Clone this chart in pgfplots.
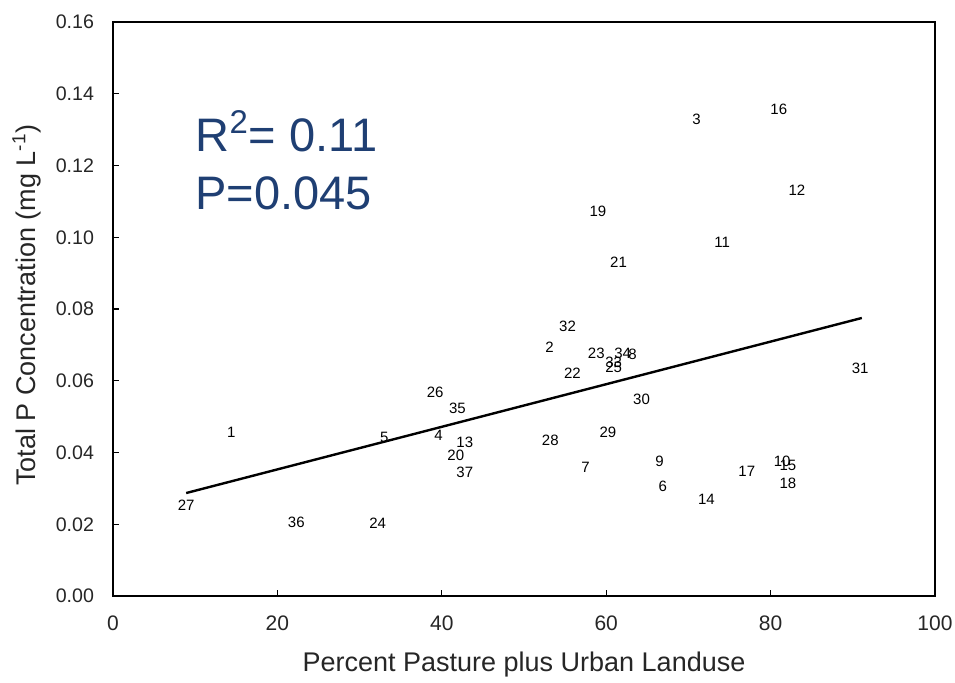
\documentclass[border=0pt]{standalone}
\usepackage{fontspec}
\setmainfont{Liberation Sans}
\usepackage{pgfplots}
\usepackage{pgfplotstable}
\pgfplotsset{compat=1.18}
\definecolor{rtxt}{HTML}{1F3F73}
\pgfplotstableread{
x y label
14.4 0.0457 1
53.1 0.0694 2
71.0 0.1330 3
39.6 0.0449 4
33.0 0.0443 5
66.9 0.0307 6
57.5 0.0360 7
63.2 0.0675 8
66.5 0.0374 9
81.4 0.0376 10
74.1 0.0987 11
83.2 0.1132 12
42.8 0.0429 13
72.2 0.0270 14
82.1 0.0365 15
81.0 0.1357 16
77.1 0.0348 17
82.1 0.0315 18
59.0 0.1073 19
41.7 0.0393 20
61.5 0.0931 21
55.9 0.0622 22
58.8 0.0677 23
32.2 0.0203 24
60.9 0.0638 25
39.2 0.0569 26
8.9 0.0254 27
53.2 0.0435 28
60.2 0.0457 29
64.3 0.0549 30
90.9 0.0636 31
55.3 0.0753 32
60.9 0.0652 33
62.0 0.0677 34
41.9 0.0524 35
22.3 0.0206 36
42.8 0.0346 37
}\sites
\begin{document}
\begin{tikzpicture}
\useasboundingbox (-56.5pt,-43pt) rectangle (421pt,298pt);
\begin{axis}[
  at={(0,0)}, anchor=south west,
  scale only axis, width=411pt, height=287pt,
  xmin=0, xmax=100, ymin=0, ymax=0.16,
  xtick={0,20,40,60,80,100},
  ytick={0,0.02,0.04,0.06,0.08,0.10,0.12,0.14,0.16},
  tick align=inside, xtick pos=bottom, ytick pos=left,
  major tick length=3pt,
  axis line style={line width=0.8pt},
  tick style={black, line width=0.6pt},
  /pgf/number format/assume math mode=true,
  yticklabel style={/pgf/number format/fixed, /pgf/number format/fixed zerofill, /pgf/number format/precision=2},
  yticklabel style={font=\fontsize{9.8}{11}\selectfont, color=black!85, xshift=-6pt},
  xticklabel style={font=\fontsize{10.5}{12}\selectfont, color=black!85, yshift=-6.5pt},
  xlabel={Percent Pasture plus Urban Landuse},
  ylabel={Total P Concentration (mg L\textsuperscript{-1})},
  xlabel style={font=\fontsize{13.5}{15}\selectfont, color=black!85, at={(axis description cs:0.5,0)}, anchor=center, yshift=-34.5pt},
  ylabel style={font=\fontsize{13.5}{15}\selectfont, color=black!85, at={(axis description cs:0,0.507)}, anchor=center, yshift=43pt},
  clip=false,
]
\addplot[black, line width=1.2pt] coordinates {(8.9,0.0287) (91.1,0.0775)};
\addplot[only marks, mark=none, nodes near coords, point meta=explicit symbolic,
  nodes near coords align={center},
  every node near coord/.append style={font=\fontsize{7.5}{8}\selectfont, inner sep=0pt, anchor=center}]
  table[x=x, y=y, meta=label] {\sites};
\node[anchor=base west, text=rtxt, font=\fontsize{23.5}{26}\selectfont, inner sep=0pt] at (axis cs:10,0.1238) {R\textsuperscript{2}= 0.11};
\node[anchor=base west, text=rtxt, font=\fontsize{23.5}{26}\selectfont, inner sep=0pt] at (axis cs:10,0.1076) {P=0.045};
\end{axis}
\end{tikzpicture}
\end{document}
